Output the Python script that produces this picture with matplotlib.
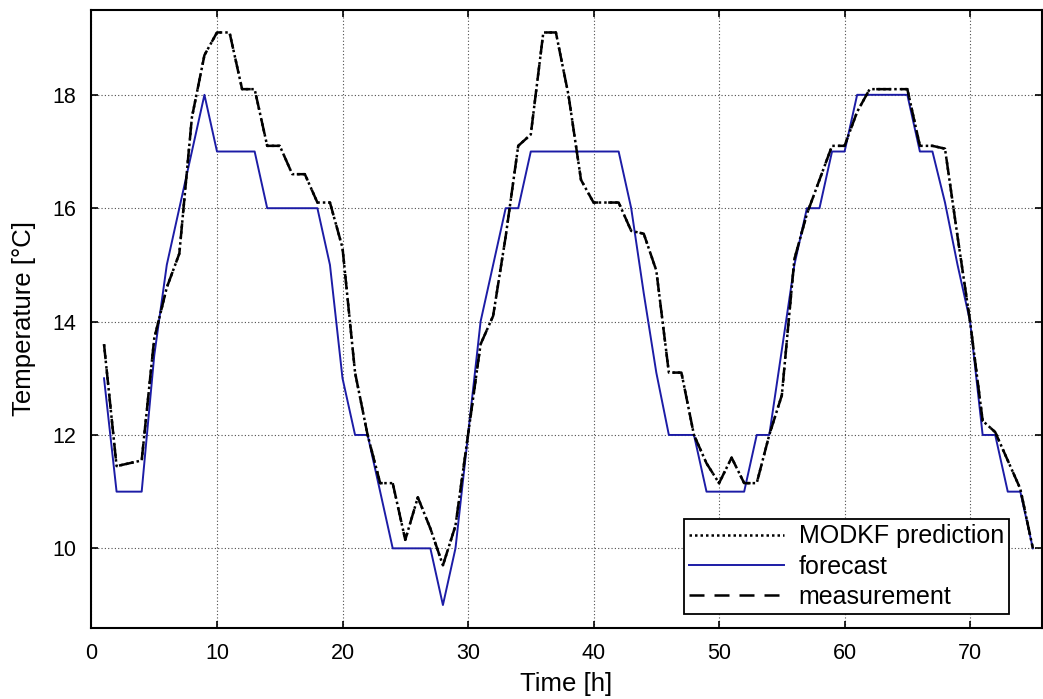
import numpy as np
import matplotlib
matplotlib.use("Agg")
import matplotlib.pyplot as plt

plt.rcParams['font.family'] = ['Liberation Sans', 'DejaVu Sans']

# hourly values
hours = list(range(1, 76))

forecast = [13, 11, 11, 11, 13.4, 15, 16, 17, 18, 17,
            17, 17, 17, 16, 16, 16, 16, 16, 15, 13,
            12, 12, 11, 10, 10, 10, 10, 9, 10, 12,
            14, 15, 16, 16, 17, 17, 17, 17, 17, 17,
            17, 17, 16, 14.5, 13.1, 12, 12, 12, 11, 11,
            11, 11, 12, 12, 13.5, 15, 16, 16, 17, 17,
            18, 18, 18, 18, 18, 17, 17, 16.1, 15, 14,
            12, 12, 11, 11, 10]

measurement = [13.6, 11.45, 11.5, 11.55, 13.7, 14.6, 15.2, 17.6, 18.7, 19.1,
               19.1, 18.1, 18.1, 17.1, 17.1, 16.6, 16.6, 16.1, 16.1, 15.3,
               13.1, 12.0, 11.15, 11.15, 10.15, 10.9, 10.35, 9.7, 10.4, 12.0,
               13.6, 14.1, 15.5, 17.1, 17.3, 19.1, 19.1, 18.0, 16.5, 16.1,
               16.1, 16.1, 15.6, 15.55, 14.9, 13.1, 13.1, 12.0, 11.5, 11.15,
               11.6, 11.15, 11.15, 12.0, 12.7, 15.1, 15.9, 16.5, 17.1, 17.1,
               17.7, 18.1, 18.1, 18.1, 18.1, 17.1, 17.1, 17.05, 15.5, 14.0,
               12.25, 12.05, 11.55, 11.05, 10.0]

modkf_prediction = [13.6, 11.45, 11.5, 11.55, 13.7, 14.6, 15.2, 17.6, 18.7, 19.1,
                    19.1, 18.1, 18.1, 17.1, 17.1, 16.6, 16.6, 16.1, 16.1, 15.3,
                    13.1, 12.0, 11.15, 11.15, 10.15, 10.9, 10.35, 9.7, 10.4, 12.0,
                    13.6, 14.1, 15.5, 17.1, 17.3, 19.1, 19.1, 18.0, 16.5, 16.1,
                    16.1, 16.1, 15.6, 15.55, 14.9, 13.1, 13.1, 12.0, 11.5, 11.15,
                    11.6, 11.15, 11.15, 12.0, 12.7, 15.1, 15.9, 16.5, 17.1, 17.1,
                    17.7, 18.1, 18.1, 18.1, 18.1, 17.1, 17.1, 17.05, 15.5, 14.0,
                    12.25, 12.05, 11.55, 11.05, 10.0]

xticks = [0, 10, 20, 30, 40, 50, 60, 70]
yticks = [10, 12, 14, 16, 18]

fig = plt.figure(figsize=(10.43, 6.99), dpi=100)
ax = fig.add_axes([0.0877, 0.102, 0.911, 0.884])

ax.plot(hours, modkf_prediction, color="black", ls=(0, (1, 1.2)), lw=1.8,
        label="MODKF prediction", zorder=4)
ax.plot(hours, forecast, color="#1c1ca6", ls="-", lw=1.4, label="forecast", zorder=3)
ax.plot(hours, measurement, color="black", ls=(0, (6, 4)), lw=1.8,
        label="measurement", zorder=4)

ax.set_xlim(0, 75.7)
ax.set_ylim(8.6, 19.5)
ax.set_xticks(xticks)
ax.set_yticks(yticks)
ax.grid(True, color="0.3", ls=(0, (1, 2)), lw=0.8)
ax.tick_params(direction="in", top=True, right=True, length=5, width=1.2,
               labelsize=15.5, pad=11)
for s in ax.spines.values():
    s.set_linewidth(1.5)

ax.set_xlabel("Time [h]", fontsize=18.5, labelpad=6)
ax.set_ylabel("Temperature [°C]", fontsize=18.5, labelpad=12)

leg = ax.legend(loc="lower right", bbox_to_anchor=(0.9656, 0.0222),
                fontsize=18, handlelength=3.8, handletextpad=0.6,
                borderpad=0.2, labelspacing=0.25, borderaxespad=0,
                fancybox=False, framealpha=1, edgecolor="black")
leg.get_frame().set_linewidth(1.3)

fig.savefig("out.png", dpi=100)
